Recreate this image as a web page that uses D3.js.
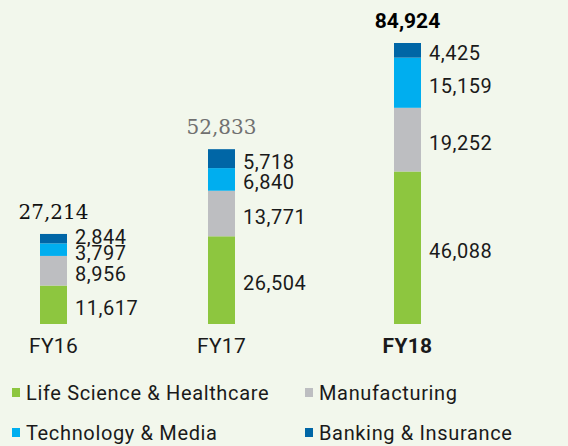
<!DOCTYPE html>
<html>
<head>
<meta charset="utf-8">
<script src="https://cdn.jsdelivr.net/npm/d3@7"></script>
<style>
  html, body { margin: 0; padding: 0; background: #f2f7ec; }
  svg { display: block; }
  .seg-label, .cat-label, .legend text { font-family: Roboto, "Noto Sans", sans-serif; fill: #1a1a1a; }
</style>
</head>
<body>
<svg id="chart" width="568" height="446"></svg>
<script>
// ---- data ----
const years = ["FY16", "FY17", "FY18"];
const segments = ["Life Science & Healthcare", "Manufacturing", "Technology & Media", "Banking & Insurance"];
const lifeScience = [11617, 26504, 46088];
const manufacturing = [8956, 13771, 19252];
const techMedia = [3797, 6840, 15159];
const banking = [2844, 5718, 4425];
const totals = [27214, 52833, 84924];

const colors = ["#8dc63f", "#bdbec1", "#00aeef", "#0066a6"];

let svg = d3.select("#chart");

let rows = years.map(function(y, i) {
  return { year: y, "Life Science & Healthcare": lifeScience[i], "Manufacturing": manufacturing[i],
           "Technology & Media": techMedia[i], "Banking & Insurance": banking[i], total: totals[i] };
});

let stack = d3.stack().keys(segments)(rows);

// bar centres are not evenly spaced in the original
let x = d3.scaleOrdinal().domain(years).range([53.5, 221.5, 407.5]);
let barW = 27;

let y = d3.scaleLinear()
  .domain([0, d3.max(totals)])
  .range([324, 43]);

let color = d3.scaleOrdinal().domain(segments).range(colors);

// bars
let layer = svg.selectAll(".layer")
  .data(stack)
  .enter().append("g")
  .attr("class", "layer")
  .attr("fill", d => color(d.key));

layer.selectAll("rect")
  .data(d => d)
  .enter().append("rect")
  .attr("x", d => x(d.data.year) - barW / 2)
  .attr("y", d => y(d[1]))
  .attr("width", barW)
  .attr("height", d => y(d[0]) - y(d[1]));

// segment value labels: centre of segment, pushed up when too close to the one below
let labels = [];
years.forEach(function(yr, i) {
  let prev = null;
  stack.forEach(function(s) {
    let d = s[i];
    let ly = (y(d[0]) + y(d[1])) / 2 + 10;
    if (prev !== null && prev - ly < 16) ly = prev - 16;
    prev = ly;
    labels.push({ year: yr, value: d[1] - d[0], y: ly });
  });
});

svg.selectAll(".seg-label")
  .data(labels)
  .enter().append("text")
  .attr("class", "seg-label")
  .attr("x", d => x(d.year) + barW / 2 + 8)
  .attr("y", d => d.y)
  .style("font-size", "20px")
  .style("letter-spacing", "0.5px")
  .text(d => d3.format(",")(d.value));

// totals (each drawn in a different style, as in the original)
let totalStyle = [
  { family: "'DejaVu Serif', serif", weight: 400, fill: "#111" },
  { family: "'DejaVu Serif', serif", weight: 400, fill: "#707070" },
  { family: "Roboto, sans-serif", weight: 700, fill: "#000" }
];

svg.selectAll(".total")
  .data(rows)
  .enter().append("text")
  .attr("class", "total")
  .attr("x", d => x(d.year))
  .attr("y", d => y(d.total) - 15)
  .attr("text-anchor", "middle")
  .style("font-size", (d, i) => i == 2 ? "21px" : "20px")
  .style("font-family", (d, i) => totalStyle[i].family)
  .style("font-weight", (d, i) => totalStyle[i].weight)
  .style("fill", (d, i) => totalStyle[i].fill)
  .text(d => d3.format(",")(d.total));

// category labels
svg.selectAll(".cat-label")
  .data(years)
  .enter().append("text")
  .attr("class", "cat-label")
  .attr("x", d => x(d))
  .attr("y", 353)
  .attr("text-anchor", "middle")
  .style("font-size", "21px")
  .style("letter-spacing", "0.3px")
  .style("font-weight", (d, i) => i == 2 ? 700 : 400)
  .text(d => d);

// legend, two columns
let legCol = d3.scaleOrdinal().domain([0, 1]).range([12, 305]);
let legRow = d3.scaleOrdinal().domain([0, 1]).range([400, 440]);

let leg = svg.selectAll(".legend")
  .data(segments)
  .enter().append("g")
  .attr("class", "legend")
  .attr("transform", (d, i) => "translate(" + legCol(i % 2) + "," + legRow(Math.floor(i / 2)) + ")");

leg.append("rect")
  .attr("x", 0)
  .attr("y", -12)
  .attr("width", 8)
  .attr("height", 9)
  .attr("fill", d => color(d));

leg.append("text")
  .attr("x", 14)
  .attr("y", 0)
  .style("font-size", "20px")
  .style("letter-spacing", "0.65px")
  .text(d => d);
</script>
</body>
</html>
